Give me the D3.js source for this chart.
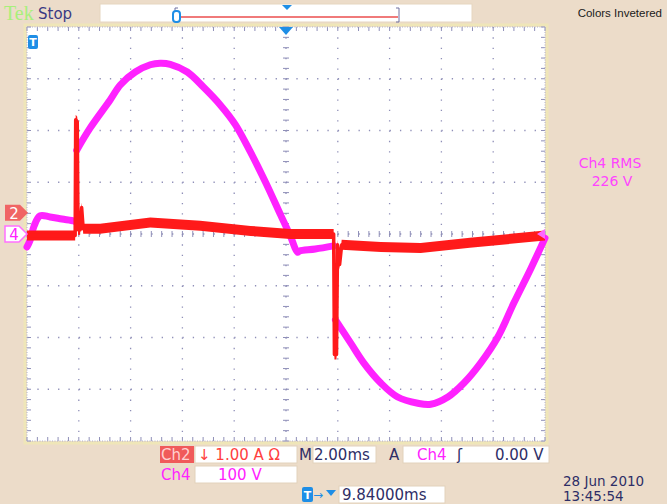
<!DOCTYPE html>
<html><head><meta charset="utf-8">
<script src="https://cdn.jsdelivr.net/npm/d3@7"></script>
<style>
body{margin:0;background:#ecdcc9;}
svg{display:block;font-family:"DejaVu Sans",sans-serif;}
</style></head>
<body>
<svg id="c" width="667" height="504"></svg>
<script>
// ---- data ----
// Ch4 voltage (100 V/div), time in ms (2 ms/div, trigger at 0)
const ch4Time  = [-10.0,-9.88,-9.73,-9.50,-9.11,-8.65,-8.18,-8.12,-8.08,-7.56,-6.79,-6.40,-5.82,-5.24,-4.86,-4.47,-3.81,-3.19,-2.53,-1.95,-1.37,-0.79,-0.21,0.17,0.44,0.52,1.13,1.84,1.91,2.50,3.00,3.66,4.31,5.09,5.59,6.25,6.87,7.52,8.18,8.80,9.46,10.0];
const ch4Volts = [-25,-12,15,35,33,29,25,23,162,205,259,288,313,327,330,328,313,284,249,211,158,100,37,-4,-35,-33,-29,-23,-166,-211,-249,-288,-315,-327,-329,-315,-288,-249,-199,-133,-66,-8];
const ch4Breaks = [-8.12, 1.84];   // trace is not drawn across these jumps
// Ch2 current (1.00 A/div)
const ch2Time = [-10.0,-9.1,-8.14,-8.12,-8.06,-8.03,-7.95,-7.89,-7.83,-7.18,-5.24,-3.31,-1.37,0.17,1.84,1.87,1.95,1.99,2.07,2.15,3.66,5.2,7.1,10.0];
const ch2Amps = [-0.44,-0.44,-0.44,1.80,1.76,-0.33,-0.33,0.10,-0.31,-0.31,-0.19,-0.25,-0.35,-0.41,-0.41,-2.74,-2.74,-0.62,-1.00,-0.62,-0.66,-0.68,-0.58,-0.44];
const ch4PosDiv = 0.0;   // ground marker position, divisions
const ch2PosDiv = 0.41;
const voltsPerDiv = 100, ampsPerDiv = 1.0;
const hDivs = [-10,-8,-6,-4,-2,0,2,4,6,8,10];   // time grid (ms)
const vDivs = [-4,-3,-2,-1,0,1,2,3,4];           // vertical divisions
const readouts = {ch2Scale:"1.00 A", timebase:"2.00ms", trigLevel:"0.00 V", ch4Scale:"100 V", delay:"9.84000ms", rms:"226 V", date:"28 Jun  2010", time:"13:45:54"};

// ---- drawing ----
const svg = d3.select("#c");
const L=27,R=545,T=27,B=441;
const x = d3.scaleLinear().domain([-10,10]).range([L,R]);
const yd = d3.scaleLinear().domain([-4,4]).range([B,T]);
const y4 = v => yd(v/voltsPerDiv + ch4PosDiv);
const y2 = a => yd(a/ampsPerDiv + ch2PosDiv);
const gridCol="#8f8fb8", navy="#2e2e66", mag="#ff22ff", red="#ff1a1a", blue="#1e8ee6";

svg.append("rect").attr("width",667).attr("height",504).attr("fill","#ecdcc9");

// top bar
svg.append("text").attr("x",4).attr("y",20).attr("font-size",20).attr("fill","#a8ef7c").attr("font-family","Liberation Serif,serif").text("Tek");
svg.append("text").attr("x",38).attr("y",19).attr("font-size",15).attr("fill","#3a3a84").text("Stop");
svg.append("rect").attr("x",100).attr("y",4).attr("width",372).attr("height",18).attr("fill","#fff").attr("stroke","#e6d6c0");
svg.append("line").attr("x1",178).attr("x2",398).attr("y1",17).attr("y2",17).attr("stroke","#f07a7a").attr("stroke-width",2);
svg.append("path").attr("d","M178,8 h-3 v14 h3").attr("fill","none").attr("stroke","#7070a0");
svg.append("path").attr("d","M396,8 h3 v14 h-3").attr("fill","none").attr("stroke","#7070a0");
svg.append("rect").attr("x",173).attr("y",11).attr("width",7).attr("height",11).attr("rx",3).attr("fill","#fff").attr("stroke",blue).attr("stroke-width",2);
svg.append("path").attr("d","M282,5 L292,5 L287,10 Z").attr("fill",blue);
svg.append("text").attr("x",662).attr("y",17).attr("text-anchor","end").attr("font-size",11.5).attr("font-family","Liberation Sans,Arial,sans-serif").attr("fill","#1a1a1a").text("Colors Invetered");

// plot
svg.append("rect").attr("x",L-2).attr("y",T-2).attr("width",R-L+4).attr("height",B-T+4).attr("fill","none").attr("stroke","#efe6b8").attr("stroke-width",3);
svg.append("rect").attr("x",L).attr("y",T).attr("width",R-L).attr("height",B-T).attr("fill","#fff");
const g = svg.append("g");
const minorStepX = (x(2)-x(0))/5, minorStepY = (yd(0)-yd(1))/5;
g.selectAll(".vg").data(hDivs.slice(1,-1)).join("line")
  .attr("x1",d=>x(d)).attr("x2",d=>x(d)).attr("y1",T).attr("y2",B)
  .attr("stroke",gridCol).attr("stroke-width",1.3).attr("stroke-dasharray",`1.3,${minorStepY-1.3}`);
g.selectAll(".hg").data(vDivs.slice(1,-1)).join("line")
  .attr("y1",d=>yd(d)).attr("y2",d=>yd(d)).attr("x1",L).attr("x2",R)
  .attr("stroke",gridCol).attr("stroke-width",1.3).attr("stroke-dasharray",`1.3,${minorStepX-1.3}`);
const xMinor = d3.range(-10,10.001,0.4), yMinor = d3.range(-4,4.001,0.2);
g.selectAll(".cx").data(xMinor).join("line").attr("x1",d=>x(d)).attr("x2",d=>x(d)).attr("y1",yd(0)-3).attr("y2",yd(0)+3).attr("stroke",gridCol);
g.selectAll(".cy").data(yMinor).join("line").attr("y1",d=>yd(d)).attr("y2",d=>yd(d)).attr("x1",x(0)-3).attr("x2",x(0)+3).attr("stroke",gridCol);
g.selectAll(".bx").data(xMinor).join("line").attr("x1",d=>x(d)).attr("x2",d=>x(d)).attr("y1",B-4).attr("y2",B).attr("stroke",gridCol);
g.selectAll(".tx").data(xMinor).join("line").attr("x1",d=>x(d)).attr("x2",d=>x(d)).attr("y1",T).attr("y2",T+4).attr("stroke",gridCol);
g.selectAll(".ly").data(yMinor).join("line").attr("y1",d=>yd(d)).attr("y2",d=>yd(d)).attr("x1",L).attr("x2",L+4).attr("stroke",gridCol);
g.selectAll(".ry").data(yMinor).join("line").attr("y1",d=>yd(d)).attr("y2",d=>yd(d)).attr("x1",R-4).attr("x2",R).attr("stroke",gridCol);
[[L,T,R,T],[L,B,R,B],[L,T,L,B],[R,T,R,B]].forEach(s=>g.append("line").attr("x1",s[0]).attr("y1",s[1]).attr("x2",s[2]).attr("y2",s[3]).attr("stroke","#b0b0cc").attr("stroke-dasharray","1,1.5"));

// traces
const d4 = ch4Time.map((t,i)=>[t,ch4Volts[i]]);
const segs = [];
let cur = [];
d4.forEach(p=>{ cur.push(p); if (ch4Breaks.includes(p[0])) { segs.push(cur); cur=[]; } });
segs.push(cur);
const l4 = d3.line().x(d=>x(d[0])).y(d=>y4(d[1])).curve(d3.curveCatmullRom.alpha(0.5));
svg.selectAll(".seg4").data(segs).join("path").attr("fill","none").attr("stroke",mag).attr("stroke-width",7).attr("stroke-linecap","round").attr("stroke-linejoin","round").attr("d",l4);

const d2 = ch2Time.map((t,i)=>[t,ch2Amps[i]]);
svg.append("path").datum(d2).attr("fill",red)
  .attr("d",d3.area().x(d=>x(d[0])).y0(d=>y2(d[1])+5).y1(d=>y2(d[1])-5));
svg.append("path").datum(d2).attr("fill","none").attr("stroke",red).attr("stroke-width",3.5).attr("stroke-linejoin","round")
  .attr("d",d3.line().x(d=>x(d[0])).y(d=>y2(d[1])));

// trigger markers
svg.append("path").attr("d",`M${x(0)-7},${T} L${x(0)+7},${T} L${x(0)},${T+8} Z`).attr("fill",blue);
svg.append("rect").attr("x",L+1).attr("y",T+8).attr("width",10).attr("height",14).attr("rx",2).attr("fill",blue);
svg.append("text").attr("x",L+6).attr("y",T+19).attr("text-anchor","middle").attr("font-size",11).attr("font-weight","bold").attr("fill","#fff").text("T");

// channel ground markers
const m2=yd(ch2PosDiv), m4=yd(ch4PosDiv);
svg.append("path").attr("d",`M5,${m2-8} H20 L28,${m2} L20,${m2+8} H5 Z`).attr("fill","#f06464");
svg.append("text").attr("x",14).attr("y",m2+6).attr("text-anchor","middle").attr("font-size",15).attr("fill","#fff").text("2");
svg.append("path").attr("d",`M5,${m4-8} H19 L27,${m4} L19,${m4+8} H5 Z`).attr("fill","#fff").attr("stroke","#ff70ff").attr("stroke-width",1.5);
svg.append("text").attr("x",14).attr("y",m4+6).attr("text-anchor","middle").attr("font-size",15).attr("fill",mag).text("4");
svg.append("path").attr("d",`M${R},${m4-5} L${R-8},${m4} L${R},${m4+5} Z`).attr("fill","#ff66ff");

// RMS readout
svg.append("text").attr("x",610).attr("y",168).attr("text-anchor","middle").attr("font-size",14).attr("fill","#ff44ff").text("Ch4 RMS");
svg.append("text").attr("x",612).attr("y",186).attr("text-anchor","middle").attr("font-size",14).attr("fill","#ff44ff").text(readouts.rms);

// bottom readouts
const box=(x0,y0,w,h)=>svg.append("rect").attr("x",x0).attr("y",y0).attr("width",w).attr("height",h).attr("fill","#fff").attr("stroke","#e2d2bc");
const txt=(x0,y0,s,c,fs)=>svg.append("text").attr("x",x0).attr("y",y0).attr("font-size",fs||15).attr("fill",c).text(s);
svg.append("rect").attr("x",160).attr("y",446).attr("width",34).attr("height",17).attr("fill","#f05a5a");
txt(161,460,"Ch2","#ffd0d0");
box(195,446,102,17); txt(198,460,"↓ "+readouts.ch2Scale+" Ω","#ff4040");
txt(299,460,"M",navy);
box(313,446,63,17); txt(314,460,readouts.timebase,navy);
txt(389,460,"A",navy);
box(403,446,146,17); txt(417,460,"Ch4",mag); txt(457,460,"ʃ",navy); txt(495,460,readouts.trigLevel,navy);
txt(161,480,"Ch4",mag);
box(195,466,102,17); txt(218,480,readouts.ch4Scale,mag);
svg.append("rect").attr("x",302).attr("y",487).attr("width",11).attr("height",15).attr("rx",2).attr("fill",blue);
svg.append("text").attr("x",307.5).attr("y",499).attr("text-anchor","middle").attr("font-size",11).attr("font-weight","bold").attr("fill","#fff").text("T");
txt(313,499,"→",blue,12);
svg.append("path").attr("d","M326,490 L336,490 L331,496 Z").attr("fill",blue);
box(339,486,106,17); txt(342,500,readouts.delay,navy);
txt(563,486,readouts.date,navy,13.5);
txt(563,501,readouts.time,navy,13.5);
</script>
</body></html>
